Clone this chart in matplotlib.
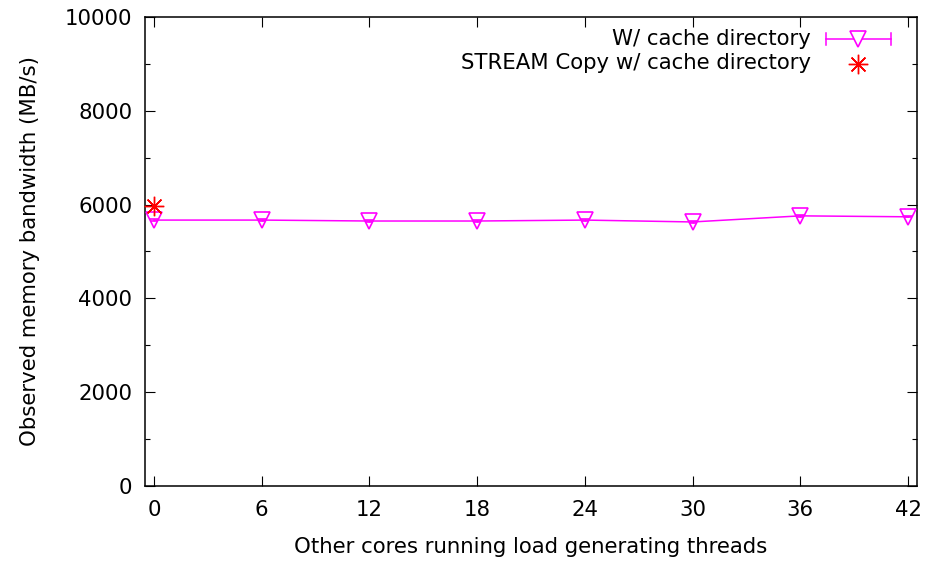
import matplotlib
matplotlib.use("Agg")
import matplotlib.pyplot as plt
from matplotlib.ticker import MultipleLocator

threads = [0, 6, 12, 18, 24, 30, 36, 42]
bandwidth = [5670, 5670, 5650, 5650, 5670, 5630, 5760, 5740]
bw_err = [15, 15, 15, 15, 15, 15, 15, 15]
stream_x = [0]
stream_y = [5970]

plt.rcParams['font.family'] = ['DejaVu Sans']
FS = 15.3
plt.rcParams['font.size'] = FS

fig = plt.figure(figsize=(9.28, 5.62), dpi=100)
ax = fig.add_axes([145/928, 1-486/562, (917-145)/928, (486-17)/562])

mag = '#ff00ff'
ax.errorbar(threads, bandwidth, yerr=bw_err, color=mag, lw=1.1, marker='v',
            markersize=11, markerfacecolor='none', markeredgecolor=mag,
            markeredgewidth=1.2, capsize=3, elinewidth=1, zorder=3, clip_on=False)
ax.plot(stream_x, stream_y, linestyle='none', marker=(8, 2, 0), color='#ff0000',
        markersize=14, markeredgewidth=1.0, zorder=4, clip_on=False)

ax.set_xlim(-0.5, 42.5)
ax.set_ylim(0, 10000)
ax.xaxis.set_major_locator(MultipleLocator(6))
ax.yaxis.set_major_locator(MultipleLocator(2000))
ax.yaxis.set_minor_locator(MultipleLocator(1000))
ax.tick_params(which='both', direction='in', top=True, right=True, labelsize=FS)
ax.tick_params(which='major', length=7, width=0.8)
ax.tick_params(axis='x', which='major', pad=10)
ax.tick_params(axis='y', which='major', pad=9)
ax.tick_params(which='minor', length=3.5, width=0.8)
for s in ax.spines.values():
    s.set_linewidth(1.1)

ax.set_xlabel('Other cores running load generating threads', fontsize=FS, labelpad=12)
ax.set_ylabel('Observed memory bandwidth (MB/s)', fontsize=FS, labelpad=18)

# gnuplot-style legend (manual)
def fx(px):
    return (px - 145) / (917 - 145)
def fy(py):
    return (486 - py) / (486 - 17)

ax.text(fx(811), fy(39), 'W/ cache directory', transform=ax.transAxes,
        ha='right', va='center', fontsize=FS)
ax.text(fx(811), fy(63), 'STREAM Copy w/ cache directory', transform=ax.transAxes,
        ha='right', va='center', fontsize=FS)
ax.plot([fx(826), fx(891)], [fy(39), fy(39)], transform=ax.transAxes, color=mag, lw=1.1, clip_on=False)
for px in (826, 891):
    ax.plot([fx(px), fx(px)], [fy(33), fy(45)], transform=ax.transAxes, color=mag, lw=1.1, clip_on=False)
ax.plot([fx(858)], [fy(39)], transform=ax.transAxes, marker='v', markersize=11,
        markerfacecolor='white', markeredgecolor=mag, markeredgewidth=1.2, clip_on=False)
ax.plot([fx(858)], [fy(64)], transform=ax.transAxes, marker=(8, 2, 0), color='#ff0000',
        markersize=14, markeredgewidth=1.0, clip_on=False)

fig.savefig('out.png', dpi=100)
